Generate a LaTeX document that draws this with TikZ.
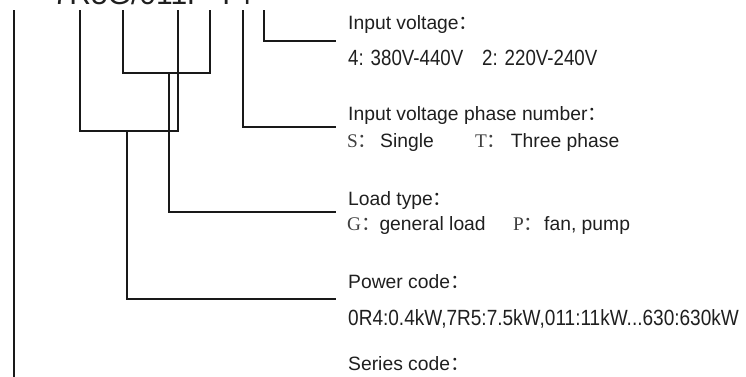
\documentclass[tikz,border=0pt]{standalone}
\usepackage{fontspec}
\setmainfont{Liberation Sans}
\newfontfamily\narrowf[FakeStretch=0.85]{Liberation Sans}
\newfontfamily\narrowg[FakeStretch=0.865]{Liberation Sans}
\newfontfamily\cjkf{Noto Sans CJK SC}
\newfontfamily\seriff{Liberation Serif}
\newcommand{\fc}{{\cjkf ：}}
\begin{document}
\begin{tikzpicture}[x=1pt,y=-1pt,
  conn/.style={line width=1.8pt, draw=black!90},
  head/.style={anchor=base west, inner sep=0pt, font=\fontsize{19.3}{23}\selectfont, text=black!88},
  val/.style={anchor=base west, inner sep=0pt, font=\narrowf\fontsize{22}{26}\selectfont, text=black!88},
  valw/.style={anchor=base west, inner sep=0pt, font=\narrowg\fontsize{22}{26}\selectfont, text=black!88},
  key/.style={anchor=base west, inner sep=0pt, font=\fontsize{19.3}{23}\selectfont, text=black!75},
  code/.style={anchor=base west, inner sep=0pt, font=\fontsize{30}{36}\selectfont, text=black!88}]
\useasboundingbox (0,0) rectangle (746,376);
\clip (0,0) rectangle (746,376);
% model code (cut off at the top)
\node[code] (model) at (52.5,4.5) {7R5G/011P-T4};
% tap points under the code
\coordinate (tser) at (14,10);
\coordinate (tpw1) at (80,10);
\coordinate (tld1) at (123,10);
\coordinate (tpw2) at (178,10);
\coordinate (tld2) at (210,10);
\coordinate (tph) at (243,10);
\coordinate (tin) at (264,10);
\coordinate (bpw) at (127,131);
\coordinate (bld) at (169,73);
\coordinate (ein) at (336,40.7);
\coordinate (eph) at (336,127);
\coordinate (eld) at (336,212);
\coordinate (epw) at (336,299);
\coordinate (eser) at (14,380);
% connectors
\draw[conn] (tser) -- (eser);
\draw[conn] (tpw1) |- (bpw) -| (tpw2);
\draw[conn] (bpw) |- (epw);
\draw[conn] (tld1) |- (bld) -| (tld2);
\draw[conn] (bld) |- (eld);
\draw[conn] (tph) |- (eph);
\draw[conn] (tin) |- (ein);
% texts
\node[head] (hin) at (348,29) {Input voltage\fc};
\node[val] (vin1) at (348,65) {4: 380V-440V};
\node[val] (vin2) at (482,65) {2: 220V-240V};
\node[head] (hph) at (348,120.5) {Input voltage phase number\fc};
\node[key] (kS) at (347,147) {{\seriff S}\fc};
\node[head] (vS) at (380,147) {Single};
\node[key] (kT) at (475,147) {{\seriff T}\fc};
\node[head] (vT) at (510.7,147) {Three phase};
\node[head] (hld) at (348,205) {Load type\fc};
\node[key] (kG) at (347,230.5) {{\seriff G}\fc};
\node[head] (vG) at (379.3,230.5) {general load};
\node[key] (kP) at (513,230.5) {{\seriff P}\fc};
\node[head] (vP) at (544,230.5) {fan, pump};
\node[head] (hpw) at (348,288.5) {Power code\fc};
\node[valw] (vpw) at (348,325) {0R4:0.4kW,7R5:7.5kW,011:11kW...630:630kW};
\node[head] (hser) at (348,370) {Series code\fc};
\end{tikzpicture}
\end{document}
